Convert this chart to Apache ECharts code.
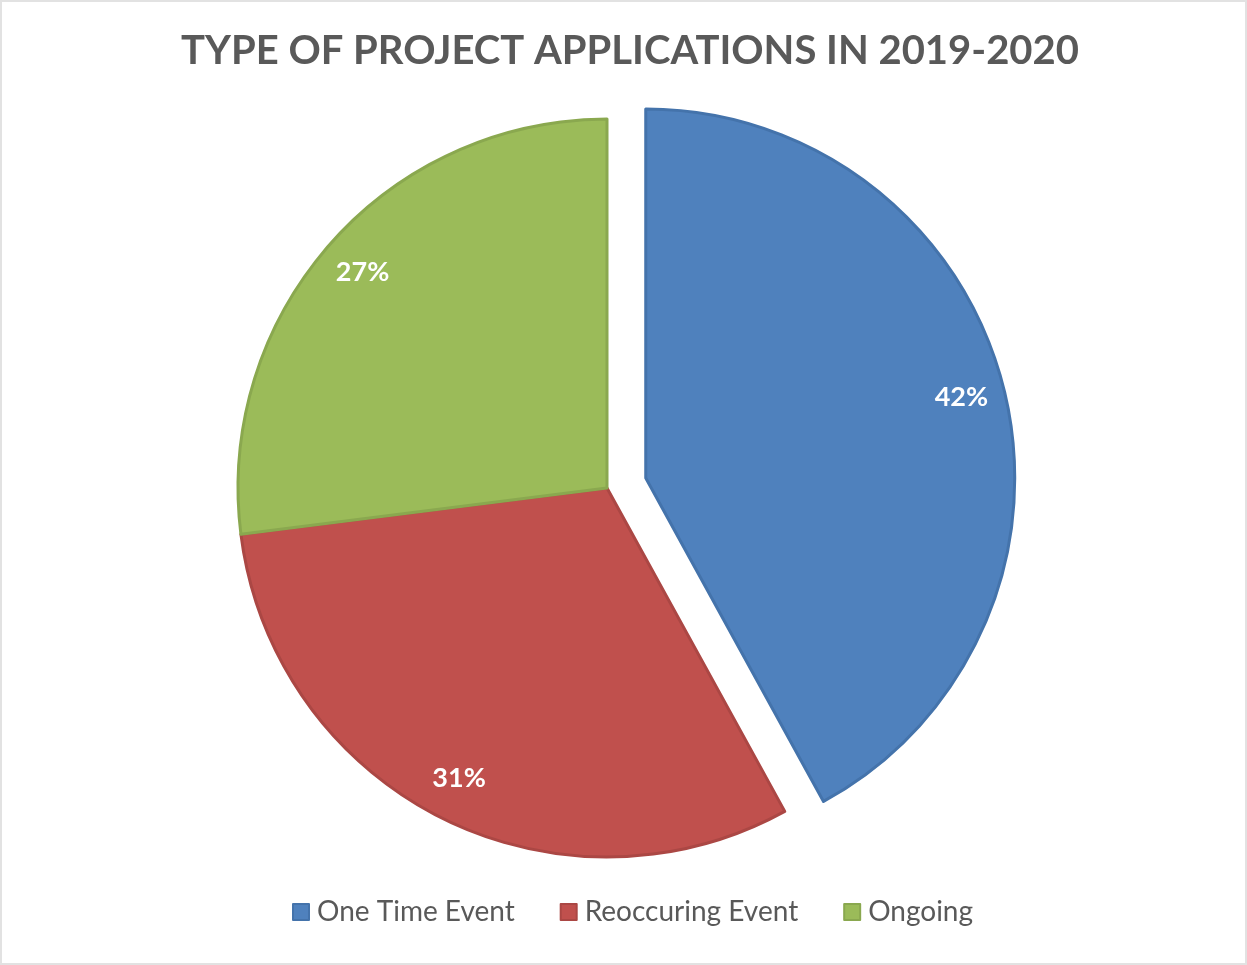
<!DOCTYPE html>
<html>
<head>
<meta charset="utf-8">
<title>Type of project applications</title>
<script src="https://cdn.jsdelivr.net/npm/echarts@6/dist/echarts.min.js"></script>
<style>
    html, body { margin: 0; padding: 0; background: #fff; }
    #chart {
        width: 1247px;
        height: 965px;
        box-sizing: border-box;
        border: 2px solid #e2e2e2;
    }
</style>
</head>
<body>
<div id="chart"></div>
<script>
    // data
    const categories = ['One Time Event', 'Reoccuring Event', 'Ongoing'];
    const shares = [42, 31, 27];
    const fillColors = ['#4f81bd', '#c0504d', '#9bbb59'];
    const edgeColors = ['#4473ab', '#ab4744', '#8aa84f'];
    const explodedName = 'One Time Event';

    const font = 'Lato, "Open Sans", sans-serif';
    const centerPx = [605, 486];
    const pieRadius = 369;

    let myChart = echarts.init(document.getElementById('chart'));

    const pieData = categories.map((name, i) => ({
        name: name,
        value: shares[i],
        selected: name === explodedName,
        itemStyle: { color: fillColors[i], borderColor: edgeColors[i] }
    }));

    // invisible ring used only to sit the labels further out than 'inside' would
    const labelData = categories.map((name, i) => ({
        name: name,
        value: shares[i],
        selected: name === explodedName,
        itemStyle: { color: 'rgba(0,0,0,0)' }
    }));

    myChart.setOption({
        color: fillColors,
        title: {
            text: 'TYPE OF PROJECT APPLICATIONS IN 2019-2020',
            left: 623,
            textAlign: 'center',
            top: 24,
            textStyle: {
                fontFamily: font,
                fontSize: 40,
                fontWeight: 'bold',
                color: '#595959'
            }
        },
        legend: {
            data: categories,
            bottom: 32,
            left: 285,
            icon: 'rect',
            itemWidth: 16,
            itemHeight: 16,
            itemGap: 45,
            textStyle: {
                fontFamily: font,
                fontSize: 28,
                color: '#595959',
                padding: [0, 0, 0, 3]
            }
        },
        series: [
            {
                name: 'applications',
                type: 'pie',
                center: centerPx,
                radius: pieRadius,
                startAngle: 90,
                clockwise: true,
                selectedMode: 'single',
                selectedOffset: 40,
                animation: false,
                silent: true,
                itemStyle: { borderWidth: 3 },
                label: { show: false },
                labelLine: { show: false },
                data: pieData
            },
            {
                name: 'labels',
                type: 'pie',
                center: centerPx,
                radius: pieRadius * 1.75,
                startAngle: 90,
                clockwise: true,
                selectedMode: 'single',
                selectedOffset: 40,
                animation: false,
                silent: true,
                label: {
                    show: true,
                    position: 'inside',
                    formatter: '{d}%',
                    fontFamily: font,
                    fontSize: 27,
                    fontWeight: 'bold',
                    color: '#ffffff'
                },
                labelLine: { show: false },
                data: labelData
            }
        ]
    });
</script>
</body>
</html>
